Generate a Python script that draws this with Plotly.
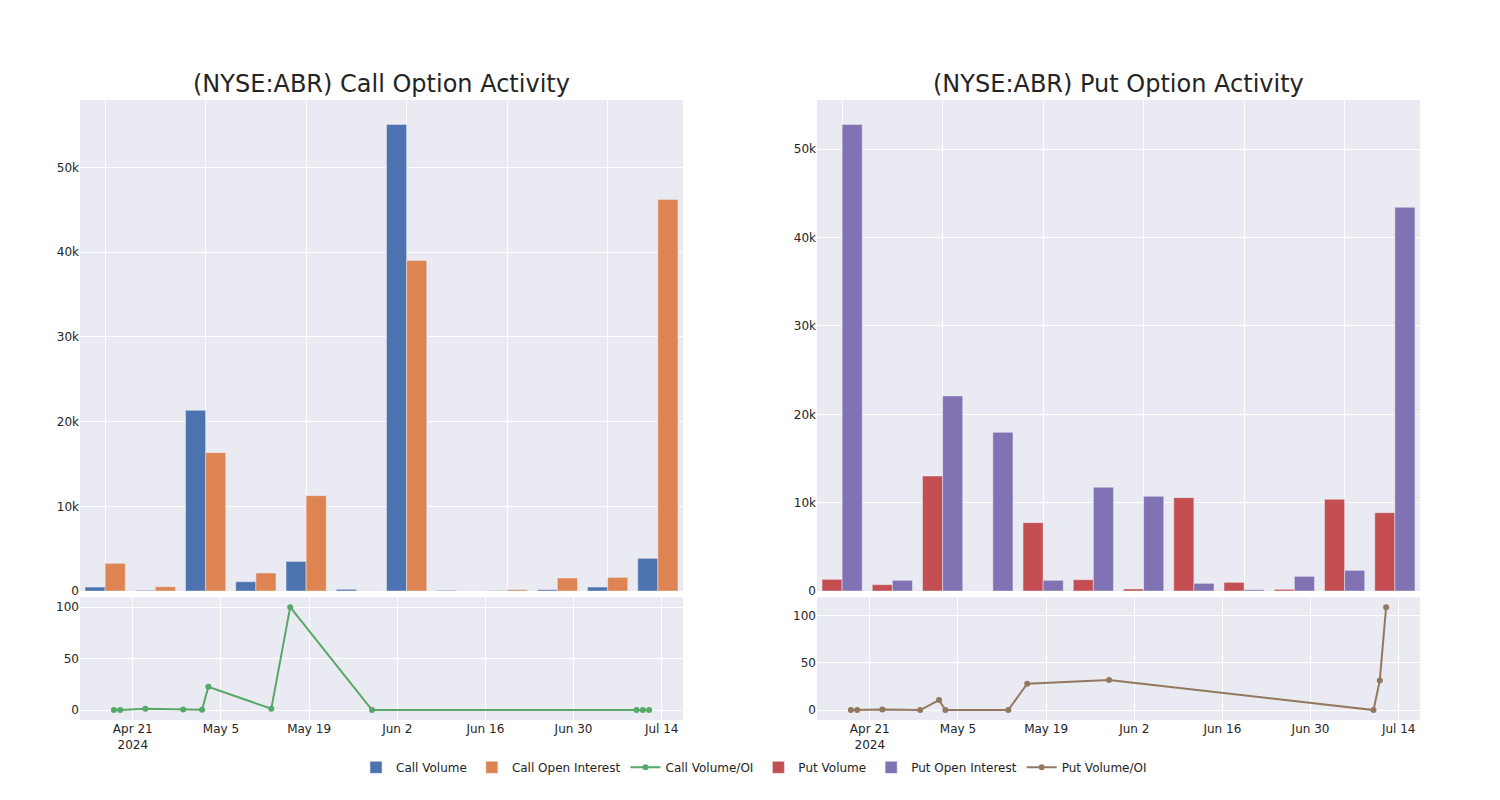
import plotly.graph_objects as go
from plotly.subplots import make_subplots

dates = ["2024-04-18", "2024-04-19", "2024-04-23", "2024-04-29", "2024-05-02", "2024-05-03",
         "2024-05-13", "2024-05-16", "2024-05-29", "2024-07-10", "2024-07-11", "2024-07-12"]

call_volume = [470, 80, 21340, 1100, 3500, 200, 55080, 80, 40, 160, 470, 3860]
call_oi = [3270, 510, 16340, 2130, 11260, 9, 39020, 1, 160, 1540, 1610, 46220]
call_ratio = [0, 0, 1.3, 0.6, 0.3, 22.7, 1.3, 100, 0, 0, 0, 0]

put_volume = [1320, 720, 13020, 0, 7740, 1280, 230, 10570, 980, 190, 10380, 8870]
put_oi = [52790, 1210, 22080, 17960, 1210, 11740, 10720, 870, 150, 1660, 2340, 43430]
put_ratio = [0, 0.2, 0.7, 0, 10.6, 0, 0, 27.9, 31.8, 0, 31.4, 108.8]

titles = ["(NYSE:ABR) Call Option Activity", "(NYSE:ABR) Put Option Activity"]

fig = make_subplots(rows=2, cols=2, row_heights=[0.8, 0.2], vertical_spacing=0.01,
                    horizontal_spacing=0.1, subplot_titles=[titles[0], titles[1], "", ""])

fig.add_trace(go.Bar(x=dates, y=call_volume, name="Call Volume"), row=1, col=1)
fig.add_trace(go.Bar(x=dates, y=call_oi, name="Call Open Interest"), row=1, col=1)
fig.add_trace(go.Scatter(x=dates, y=call_ratio, name="Call Volume/OI", mode="lines+markers"), row=2, col=1)
fig.add_trace(go.Bar(x=dates, y=put_volume, name="Put Volume"), row=1, col=2)
fig.add_trace(go.Bar(x=dates, y=put_oi, name="Put Open Interest"), row=1, col=2)
fig.add_trace(go.Scatter(x=dates, y=put_ratio, name="Put Volume/OI", mode="lines+markers"), row=2, col=2)

fig.update_layout(
    template="seaborn",
    width=1500, height=800,
    margin=dict(l=72, r=88, t=92, b=88),
    font=dict(family="DejaVu Sans"),
    barmode="group",
    legend=dict(orientation="h", x=0.503, xanchor="center", y=-0.053, yanchor="top"),
)
for c in (1, 2):
    fig.update_xaxes(type="category", showticklabels=False, tickmode="linear",
                     tick0=0, dtick=2, row=1, col=c)
    fig.update_xaxes(type="date", row=2, col=c)
fig.update_annotations(font=dict(size=24, family="DejaVu Sans", color="rgb(36,36,36)"))

fig.write_html("out.html")
